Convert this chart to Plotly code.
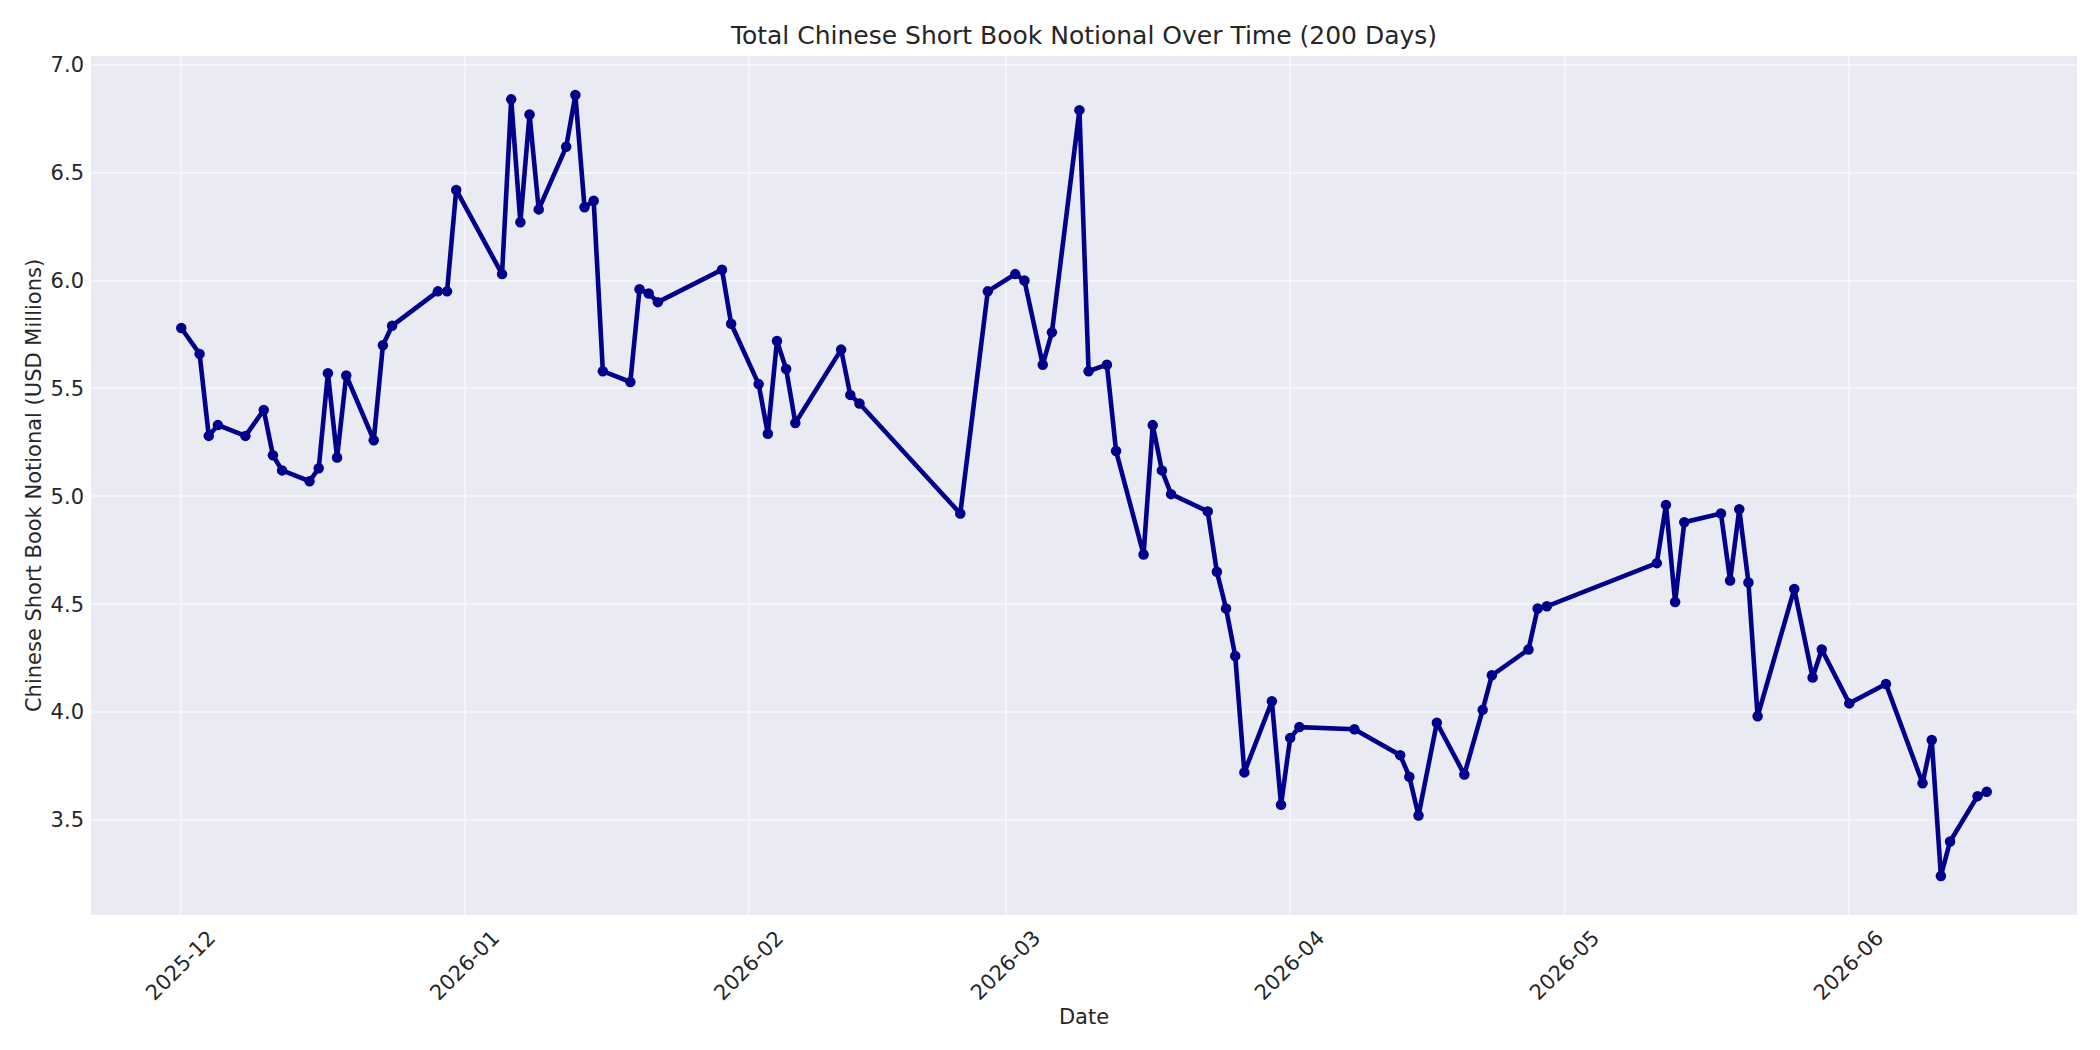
import plotly.graph_objects as go
import pandas as pd

dates = [
    "2025-12-01", "2025-12-03", "2025-12-04", "2025-12-05", "2025-12-08", "2025-12-10",
    "2025-12-11", "2025-12-12", "2025-12-15", "2025-12-16", "2025-12-17", "2025-12-18",
    "2025-12-19", "2025-12-22", "2025-12-23", "2025-12-24", "2025-12-29", "2025-12-30",
    "2025-12-31", "2026-01-05", "2026-01-06", "2026-01-07", "2026-01-08", "2026-01-09",
    "2026-01-12", "2026-01-13", "2026-01-14", "2026-01-15", "2026-01-16", "2026-01-19",
    "2026-01-20", "2026-01-21", "2026-01-22", "2026-01-29", "2026-01-30", "2026-02-02",
    "2026-02-03", "2026-02-04", "2026-02-05", "2026-02-06", "2026-02-11", "2026-02-12",
    "2026-02-13", "2026-02-24", "2026-02-27", "2026-03-02", "2026-03-03", "2026-03-05",
    "2026-03-06", "2026-03-09", "2026-03-10", "2026-03-12", "2026-03-13", "2026-03-16",
    "2026-03-17", "2026-03-18", "2026-03-19", "2026-03-23", "2026-03-24", "2026-03-25",
    "2026-03-26", "2026-03-27", "2026-03-30", "2026-03-31", "2026-04-01", "2026-04-02",
    "2026-04-08", "2026-04-13", "2026-04-14", "2026-04-15", "2026-04-17", "2026-04-20",
    "2026-04-22", "2026-04-23", "2026-04-27", "2026-04-28", "2026-04-29", "2026-05-11",
    "2026-05-12", "2026-05-13", "2026-05-14", "2026-05-18", "2026-05-19", "2026-05-20",
    "2026-05-21", "2026-05-22", "2026-05-26", "2026-05-28", "2026-05-29", "2026-06-01",
    "2026-06-05", "2026-06-09", "2026-06-10", "2026-06-11", "2026-06-12", "2026-06-15",
    "2026-06-16",
]

notional = [
    5.78, 5.66, 5.28, 5.33, 5.28, 5.40,
    5.19, 5.12, 5.07, 5.13, 5.57, 5.18,
    5.56, 5.26, 5.70, 5.79, 5.95, 5.95,
    6.42, 6.03, 6.84, 6.27, 6.77, 6.33,
    6.62, 6.86, 6.34, 6.37, 5.58, 5.53,
    5.96, 5.94, 5.90, 6.05, 5.80, 5.52,
    5.29, 5.72, 5.59, 5.34, 5.68, 5.47,
    5.43, 4.92, 5.95, 6.03, 6.00, 5.61,
    5.76, 6.79, 5.58, 5.61, 5.21, 4.73,
    5.33, 5.12, 5.01, 4.93, 4.65, 4.48,
    4.26, 3.72, 4.05, 3.57, 3.88, 3.93,
    3.92, 3.80, 3.70, 3.52, 3.95, 3.71,
    4.01, 4.17, 4.29, 4.48, 4.49, 4.69,
    4.96, 4.51, 4.88, 4.92, 4.61, 4.94,
    4.60, 3.98, 4.57, 4.16, 4.29, 4.04,
    4.13, 3.67, 3.87, 3.24, 3.40, 3.61,
    3.63,
]

tick_months = ["2025-12", "2026-01", "2026-02", "2026-03", "2026-04", "2026-05", "2026-06"]
y_ticks = [3.5, 4.0, 4.5, 5.0, 5.5, 6.0, 6.5, 7.0]

title_text = "Total Chinese Short Book Notional Over Time (200 Days)"
x_label = "Date"
y_label = "Chinese Short Book Notional (USD Millions)"

TEXT = "#262626"
FONT = "DejaVu Sans"

x_dt = pd.to_datetime(dates)
span = x_dt.max() - x_dt.min()
x_range = [x_dt.min() - 0.05 * span, x_dt.max() + 0.05 * span]
ymin, ymax = min(notional), max(notional)
ypad = 0.05 * (ymax - ymin)
y_range = [ymin - ypad, ymax + ypad]

fig = go.Figure()
fig.add_trace(go.Scatter(
    x=x_dt, y=notional, mode="lines+markers",
    line=dict(color="#00008B", width=4.6),
    marker=dict(color="#00008B", size=10.5),
    showlegend=False,
))

annotations = []
for m in tick_months:
    annotations.append(dict(
        x=pd.Timestamp(m + "-01"), xref="x", y=0, yref="paper",
        text=m, showarrow=False, textangle=-45,
        xanchor="center", yanchor="top", yshift=-8,
        font=dict(family=FONT, size=21, color=TEXT),
    ))

fig.update_layout(
    width=2100, height=1050,
    margin=dict(l=91, r=23, t=56, b=135),
    paper_bgcolor="white", plot_bgcolor="#EAEAF2",
    font=dict(family=FONT, size=21, color=TEXT),
    title=dict(text=title_text, x=0.5, xref="paper", xanchor="center",
               y=1 - 35 / 1050, yref="container", yanchor="middle",
               font=dict(family=FONT, size=25, color=TEXT)),
    annotations=annotations,
)
fig.update_xaxes(
    range=x_range, type="date",
    tickvals=[pd.Timestamp(m + "-01") for m in tick_months],
    showticklabels=False, ticks="",
    showgrid=True, gridcolor="rgba(255,255,255,0.45)", gridwidth=2,
    zeroline=False, showline=False,
    title=dict(text=x_label, standoff=94, font=dict(family=FONT, size=21, color=TEXT)),
)
fig.update_yaxes(
    range=y_range, tickvals=y_ticks, tickformat=".1f", ticks="",
    ticklabelstandoff=6,
    tickfont=dict(family=FONT, size=21, color=TEXT),
    showgrid=True, gridcolor="rgba(255,255,255,0.45)", gridwidth=2,
    zeroline=False, showline=False,
    title=dict(text=y_label, standoff=3, font=dict(family=FONT, size=21, color=TEXT)),
)

fig.write_html("out.html", config={"displayModeBar": False},
               post_script="document.body.style.margin='0';")
